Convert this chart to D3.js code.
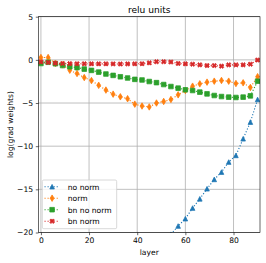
<!DOCTYPE html>
<html>
<head>
<meta charset="utf-8">
<script src="https://cdn.jsdelivr.net/npm/d3@7"></script>
<style>
	html, body { margin: 0; padding: 0; background: #fff; }
	svg { display: block; font-family: 'DejaVu Sans', sans-serif; }
</style>
</head>
<body>
<div id="chart"></div>
<script>
// layer index for every point
const layers = [0, 3, 6, 9, 12, 15, 18, 21, 24, 27, 30, 33, 36, 39, 42, 45, 48, 51, 54, 57, 60, 63, 66, 69, 72, 75, 78, 81, 84, 87, 90];

const noNorm = [null, null, null, null, null, null, null, null, null, null, null, null, null, null, null, null, null, null,
	-20.2, -19.25, -18.4, -17.17, -16.1, -14.93, -13.85, -13.0, -11.84, -11.07, -9.14, -7.21, -4.59];
const norm = [0.27, 0.27, -0.42, -0.58, -1.2, -1.58, -2.05, -2.4, -2.95, -3.5, -3.97, -4.28, -4.5, -5.13, -5.35, -5.45,
	-5.0, -4.82, -4.59, -4.05, -3.55, -3.05, -2.78, -2.58, -2.47, -2.39, -2.47, -2.74, -2.66, -3.2, -1.95];
const bnNoNorm = [-0.42, -0.28, -0.45, -0.66, -0.8, -0.9, -1.07, -1.22, -1.42, -1.64, -1.8, -1.96, -2.1, -2.26, -2.33, -2.51,
	-2.64, -2.86, -3.09, -3.28, -3.47, -3.55, -3.74, -3.94, -4.13, -4.25, -4.32, -4.36, -4.32, -4.17, -2.47];
const bnNorm = [-0.23, -0.3, -0.38, -0.42, -0.44, -0.45, -0.45, -0.46, -0.46, -0.46, -0.47, -0.48, -0.47, -0.46, -0.45, -0.35,
	-0.22, -0.22, -0.25, -0.42, -0.46, -0.5, -0.58, -0.66, -0.66, -0.73, -0.58, -0.58, -0.58, -0.5, -0.02];

const seriesNames = ['no norm', 'norm', 'bn no norm', 'bn norm'];
const seriesColors = ['#1f77b4', '#ff7f0e', '#2ca02c', '#d62728'];
const seriesMarkers = ['triangle', 'thinDiamond', 'square', 'xFilled'];
const seriesValues = [noNorm, norm, bnNoNorm, bnNorm];

const xTicks = [0, 20, 40, 60, 80];
const yTicks = [5, 0, -5, -10, -15, -20];

const width = 266;
const height = 263;
const margin = { top: 16.7, right: 6, bottom: 30.5, left: 38.5 };
const fs = 7.6;
const ms = 4.6;

const svg = d3.select('#chart').append('svg').attr('width', width).attr('height', height);

const x = d3.scaleLinear().domain([-1, 91]).range([margin.left, width - margin.right]);
const y = d3.scaleLinear().domain([-20, 5]).range([height - margin.bottom, margin.top]);

// marker paths, all centred on 0,0
const markerPath = (type, s) => {
	const h = s / 2;
	if (type === 'triangle') return `M0,${-h}L${h},${h}L${-h},${h}Z`;
	if (type === 'square') return `M${-h},${-h}H${h}V${h}H${-h}Z`;
	if (type === 'thinDiamond') {
		const dy = h * Math.SQRT2;
		const dx = dy * 0.6;
		return `M0,${-dy}L${dx},0L0,${dy}L${-dx},0Z`;
	}
	const pts = [[-0.25, -0.5], [0, -0.25], [0.25, -0.5], [0.5, -0.25], [0.25, 0], [0.5, 0.25],
		[0.25, 0.5], [0, 0.25], [-0.25, 0.5], [-0.5, 0.25], [-0.25, 0], [-0.5, -0.25]];
	return 'M' + pts.map(p => `${p[0] * s},${p[1] * s}`).join('L') + 'Z';
};

svg.append('defs').append('clipPath').attr('id', 'plot-clip')
	.append('rect')
	.attr('x', x.range()[0]).attr('y', y.range()[1])
	.attr('width', x.range()[1] - x.range()[0])
	.attr('height', y.range()[0] - y.range()[1]);

// grid
const grid = svg.append('g').attr('stroke', '#b0b0b0').attr('stroke-width', 0.8);
grid.selectAll('.gx').data(xTicks).enter().append('line')
	.attr('x1', d => x(d)).attr('x2', d => x(d))
	.attr('y1', y.range()[0]).attr('y2', y.range()[1]);
grid.selectAll('.gy').data(yTicks).enter().append('line')
	.attr('y1', d => y(d)).attr('y2', d => y(d))
	.attr('x1', x.range()[0]).attr('x2', x.range()[1]);

// series
const plot = svg.append('g').attr('clip-path', 'url(#plot-clip)');
seriesValues.forEach((vals, i) => {
	const pts = layers.map((l, j) => ({ l, v: vals[j] })).filter(d => d.v !== null);
	const line = d3.line().x(d => x(d.l)).y(d => y(d.v));
	plot.append('path')
		.datum(pts)
		.attr('d', line)
		.attr('fill', 'none')
		.attr('stroke', seriesColors[i])
		.attr('stroke-width', 1.14)
		.attr('stroke-dasharray', '1.14,1.9');
	plot.append('g').selectAll('path').data(pts).enter().append('path')
		.attr('d', markerPath(seriesMarkers[i], ms))
		.attr('transform', d => `translate(${x(d.l)},${y(d.v)})`)
		.attr('fill', seriesColors[i])
		.attr('stroke', seriesColors[i])
		.attr('stroke-width', 0.76)
		.attr('stroke-linejoin', 'miter');
});

// axes
const fmt = d => (d < 0 ? '\u2212' + Math.abs(d) : String(d));
const xAxis = svg.append('g')
	.attr('transform', `translate(0,${y.range()[0]})`)
	.call(d3.axisBottom(x).tickValues(xTicks).tickFormat(fmt).tickSize(2.7).tickPadding(2.7));
const yAxis = svg.append('g')
	.attr('transform', `translate(${x.range()[0]},0)`)
	.call(d3.axisLeft(y).tickValues(yTicks).tickFormat(fmt).tickSize(2.7).tickPadding(2.7));

[xAxis, yAxis].forEach(ax => {
	ax.select('.domain').remove();
	ax.selectAll('line').attr('stroke', '#000').attr('stroke-width', 0.6);
	ax.selectAll('text').attr('font-size', fs).attr('fill', '#000').attr('font-family', 'DejaVu Sans');
});

// frame
svg.append('rect')
	.attr('x', x.range()[0]).attr('y', y.range()[1])
	.attr('width', x.range()[1] - x.range()[0])
	.attr('height', y.range()[0] - y.range()[1])
	.attr('fill', 'none')
	.attr('stroke', '#000')
	.attr('stroke-width', 0.6);

svg.append('text')
	.attr('x', (x.range()[0] + x.range()[1]) / 2)
	.attr('y', 12.6)
	.attr('text-anchor', 'middle')
	.attr('font-size', 9.1)
	.text('relu units');

svg.append('text')
	.attr('x', (x.range()[0] + x.range()[1]) / 2)
	.attr('y', 255)
	.attr('text-anchor', 'middle')
	.attr('font-size', fs)
	.text('layer');

svg.append('text')
	.attr('transform', `translate(12.5,${(y.range()[0] + y.range()[1]) / 2}) rotate(-90)`)
	.attr('text-anchor', 'middle')
	.attr('font-size', fs)
	.text('log(grad weights)');

// legend
const legend = svg.append('g').attr('transform', 'translate(42.3,180)');
legend.append('rect')
	.attr('width', 74.4).attr('height', 48.7)
	.attr('rx', 1.5)
	.attr('fill', '#fff').attr('fill-opacity', 0.8)
	.attr('stroke', '#cccccc').attr('stroke-width', 0.76);

const rows = legend.selectAll('.row').data(seriesNames).enter().append('g')
	.attr('transform', (d, i) => `translate(0,${6.7 + i * 11.5})`);
rows.append('line')
	.attr('x1', 2.2).attr('x2', 17.4)
	.attr('stroke', (d, i) => seriesColors[i])
	.attr('stroke-width', 1.14)
	.attr('stroke-dasharray', '1.14,1.9');
rows.append('path')
	.attr('d', (d, i) => markerPath(seriesMarkers[i], ms))
	.attr('transform', 'translate(9.8,0)')
	.attr('fill', (d, i) => seriesColors[i])
	.attr('stroke', (d, i) => seriesColors[i])
	.attr('stroke-width', 0.76);
rows.append('text')
	.attr('x', 25.5).attr('y', 2.8)
	.attr('font-size', fs)
	.text(d => d);
</script>
</body>
</html>
